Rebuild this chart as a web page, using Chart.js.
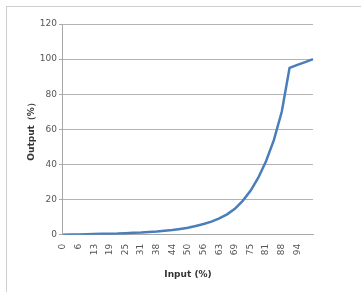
<!DOCTYPE html>
<html>
<head>
<meta charset="utf-8">
<script src="https://cdn.jsdelivr.net/npm/chart.js@4"></script>
<style>
  html, body { margin: 0; padding: 0; background: #fff; }
  #wrap { position: relative; width: 361px; height: 292px; overflow: hidden; }
  #frame { position: absolute; left: 6px; top: 6px; width: 420px; height: 340px; border: 1px solid #cfcfcf; }
  canvas { position: absolute; left: 0; top: 0; }
</style>
</head>
<body>
<div id="wrap">
  <div id="frame"></div>
  <canvas id="chart" width="361" height="292"></canvas>
</div>
<script>
// input (%) categories, step 3.125
const inputLabels = ['0', '3', '6', '9', '13', '16', '19', '22', '25', '28', '31', '34', '38', '41', '44', '47',
  '50', '53', '56', '59', '63', '66', '69', '72', '75', '78', '81', '84', '88', '91', '94', '97', '100'];

// output (%)
const outputValues = [0, 0.1, 0.2, 0.3, 0.4, 0.5, 0.6, 0.7, 0.9, 1.1, 1.3, 1.6, 1.9, 2.3, 2.7, 3.3,
  4.0, 5.0, 6.1, 7.5, 9.3, 11.6, 14.8, 19.3, 25.0, 32.5, 42.0, 54.0, 70.0, 95.0, 96.7, 98.3, 100];

const yTicks = [0, 20, 40, 60, 80, 100, 120];

const tickFont = { family: 'DejaVu Sans', size: 9 };
const titleFont = { family: 'DejaVu Sans', size: 9, weight: 'bold' };

new Chart(document.getElementById('chart'), {
  type: 'line',
  data: {
    labels: inputLabels,
    datasets: [{
      data: outputValues,
      borderColor: '#4a7ebb',
      borderWidth: 2.5,
      pointRadius: 0,
      tension: 0,
      fill: false
    }]
  },
  options: {
    responsive: false,
    animation: false,
    layout: { padding: { left: 22, right: 48, top: 24, bottom: 8 } },
    plugins: {
      legend: { display: false },
      tooltip: { enabled: false }
    },
    scales: {
      x: {
        offset: false,
        grid: { display: false, drawTicks: false },
        border: { color: '#a8a8a8' },
        ticks: {
          autoSkip: false,
          minRotation: 90,
          maxRotation: 90,
          padding: 9,
          color: '#555',
          font: tickFont,
          callback: (v, i) => (i % 2 === 0 && i < inputLabels.length - 1) ? inputLabels[i] : ''
        },
        title: { display: true, text: 'Input (%)', color: '#333', font: titleFont, padding: { top: 5 } }
      },
      y: {
        min: 0,
        max: 120,
        afterBuildTicks: axis => { axis.ticks = yTicks.map(v => ({ value: v })); },
        grid: { color: '#b4b4b4', lineWidth: 1, tickLength: 4, tickColor: '#a8a8a8' },
        border: { color: '#a8a8a8' },
        ticks: { color: '#555', font: tickFont, padding: 2 },
        title: { display: true, text: 'Output（%）', color: '#333', font: titleFont, padding: { bottom: 1 } }
      }
    }
  }
});
</script>
</body>
</html>
